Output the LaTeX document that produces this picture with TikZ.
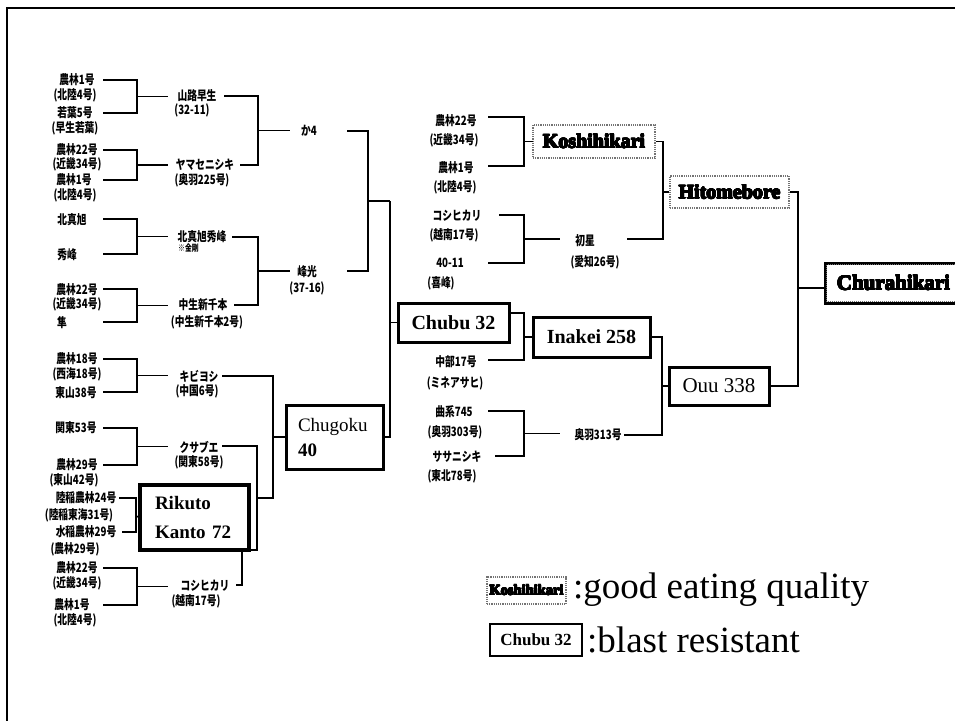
\documentclass[tikz,border=0pt]{standalone}
\usepackage{fontspec}
\usepackage[copies]{contour}
\contourlength{0.45pt}
\setmainfont{Liberation Serif}
\newfontfamily\jpf{Noto Sans CJK JP}[FakeStretch=0.76]
\newcommand\hv[1]{\contour{black}{#1}}
\newcommand\pedbr[6]{\draw[ln] (#1,#2) -- (#5,#2) -- (#5,#4) -- (#3,#4); \draw[ln] (#5,{(#2+#4)/2}) -- (#6,{(#2+#4)/2});}
\tikzset{
 ln/.style={line width=1.1pt},
 jl/.style={font=\jpf\bfseries\fontsize{12.8}{14}\selectfont, inner sep=0pt},
 jsm/.style={font=\jpf\bfseries\fontsize{9}{10}\selectfont, inner sep=0pt, anchor=west},
 blastbox/.style={draw, line width=3pt, inner sep=0pt, font=\bfseries\fontsize{20}{22}\selectfont},
 goodbox/.style={draw=black!55, densely dotted, line width=1.2pt, inner sep=0pt, font=\bfseries\fontsize{20}{22}\selectfont},
 legtext/.style={font=\fontsize{37}{40}\selectfont, anchor=west, inner sep=0pt},
}
\begin{document}
\begin{tikzpicture}[x=1pt,y=-1pt]
\useasboundingbox (0,0) rectangle (955,720);
\fill[white] (0,0) rectangle (955,720);
\draw[line width=2pt] (7,725) -- (7,8) -- (960,8);

% left column
\node[jl] (a1) at (77,80) {農林1号};
\node[jl] (a1p) at (75,95) {(北陸4号)};
\node[jl] (a2) at (75,113) {若葉5号};
\node[jl] (a2p) at (75,128) {(早生若葉)};
\node[jl] (b1) at (77,150) {農林22号};
\node[jl] (b1p) at (77,164) {(近畿34号)};
\node[jl] (b2) at (74,180) {農林1号};
\node[jl] (b2p) at (75,195) {(北陸4号)};
\node[jl] (c1) at (72,220) {北真旭};
\node[jl] (c2) at (67,255) {秀峰};
\node[jl] (d1) at (77,290) {農林22号};
\node[jl] (d1p) at (77,304) {(近畿34号)};
\node[jl] (d2) at (62,323) {隼};
\node[jl] (e1) at (77,359) {農林18号};
\node[jl] (e1p) at (77,374) {(西海18号)};
\node[jl] (e2) at (76,393) {東山38号};
\node[jl] (f1) at (76,428) {関東53号};
\node[jl] (f2) at (77,465) {農林29号};
\node[jl] (f2p) at (74,480) {(東山42号)};
\node[jl] (g1) at (86,498) {陸稲農林24号};
\node[jl] (g1p) at (79,515) {(陸稲東海31号)};
\node[jl] (g2) at (86,532) {水稲農林29号};
\node[jl] (g2p) at (75,549) {(農林29号)};
\node[jl] (h1) at (77,568) {農林22号};
\node[jl] (h1p) at (77,583) {(近畿34号)};
\node[jl] (h2) at (72,605) {農林1号};
\node[jl] (h2p) at (75,620) {(北陸4号)};

% second column
\node[jl] (m1) at (197,96) {山路早生};
\node[jl] (m1p) at (192,110) {(32-11)};
\node[jl] (m2) at (205,165) {ヤマセニシキ};
\node[jl] (m2p) at (202,180) {(奥羽225号)};
\node[jl] (m3) at (202,237) {北真旭秀峰};
\node[jsm] (m3p) at (178,248) {※金剛};
\node[jl] (m4) at (203,305) {中生新千本};
\node[jl] (m4p) at (207,322) {(中生新千本2号)};
\node[jl] (m5) at (199,376) {キビヨシ};
\node[jl] (m5p) at (197,391) {(中国6号)};
\node[jl] (m6) at (199,447) {クサブエ};
\node[jl] (m6p) at (199,462) {(関東58号)};
\node[jl] (m8) at (205,586) {コシヒカリ};
\node[jl] (m8p) at (196,601) {(越南17号)};
\node[jl] (k4) at (309,131) {か4};
\node[jl] (hk) at (307,272) {峰光};
\node[jl] (hkp) at (307,288) {(37-16)};

% middle column
\node[jl] (n1) at (456,121) {農林22号};
\node[jl] (n1p) at (454,140) {(近畿34号)};
\node[jl] (n2) at (456,168) {農林1号};
\node[jl] (n2p) at (455,187) {(北陸4号)};
\node[jl] (n3) at (457,216) {コシヒカリ};
\node[jl] (n3p) at (454,235) {(越南17号)};
\node[jl] (n4) at (450,263) {40-11};
\node[jl] (n4p) at (441,283) {(喜峰)};
\node[jl] (hb) at (585,241) {初星};
\node[jl] (hbp) at (595,262) {(愛知26号)};
\node[jl] (n5) at (456,362) {中部17号};
\node[jl] (n5p) at (455,383) {(ミネアサヒ)};
\node[jl] (n6) at (454,412) {曲系745};
\node[jl] (n6p) at (455,432) {(奥羽303号)};
\node[jl] (n7) at (457,457) {ササニシキ};
\node[jl] (n7p) at (452,476) {(東北78号)};
\node[jl] (o3) at (598,435) {奥羽313号};

% boxes
\node[blastbox, font=\fontsize{19}{25}\selectfont, text width=73pt, align=left, inner xsep=12pt, minimum height=64pt] (chugoku) at (334.5,437) {Chugoku\\\textbf{40}};
\node[blastbox, line width=3.4pt, font=\bfseries\fontsize{19}{29}\selectfont, text width=79pt, align=left, inner xsep=15pt, minimum height=65pt] (rikuto) at (194.5,517.5) {Rikuto\\Kanto 72};
\node[blastbox, minimum width=111pt, minimum height=39pt] (chubu) at (453.5,322.5) {Chubu 32};
\node[blastbox, minimum width=117pt, minimum height=40pt] (inakei) at (591.5,337) {Inakei 258};
\node[blastbox, font=\fontsize{21}{23}\selectfont, minimum width=100pt, minimum height=38pt] (ouu) at (719,386) {Ouu 338};
\node[goodbox, minimum width=122pt, minimum height=33pt] (koshi) at (594,141.5) {\hv{Koshihikari}};
\node[goodbox, minimum width=119pt, minimum height=32pt] (hito) at (729.5,192) {\hv{Hitomebore}};
\node[blastbox, font=\bfseries\fontsize{21}{23}\selectfont, minimum width=137pt, minimum height=40pt] (chura) at (893.5,283) {\hv{Churahikari}};
\draw[black!55, densely dotted, line width=1pt] ([shift={(3,3)}]chura.north west) rectangle ([shift={(-3,-3)}]chura.south east);

% brackets, left
\pedbr{103}{80}{103}{113}{137}{168}
\pedbr{103}{150}{103}{180}{137}{168}
\pedbr{103}{219}{103}{254}{137}{168}
\pedbr{103}{289}{103}{322}{137}{168}
\pedbr{103}{359}{103}{392}{137}{168}
\pedbr{103}{428}{103}{465}{137}{168}
\draw[ln] (119,498) -- (136,498) -- (136,532) -- (122,532);
\draw[ln] (136,515) -- (rikuto.west);
\pedbr{103}{568}{103}{605}{137}{168}

% level 2
\pedbr{224}{96}{240}{165}{258}{290}
\pedbr{232}{237}{234}{305}{258}{290}
\pedbr{347}{131}{347}{271}{368}{390}
\draw[ln] (390,201) |- (chugoku.east);
\draw[ln] (390,322.5) -- (chubu.west);

\draw[ln] (222,376) -- (273,376) -- (273,498) -- (257,498);
\draw[ln] (273,437) -- (chugoku.west);
\draw[ln] (222,446) -- (257,446) -- (257,550) -- (249,550);
\draw[ln] (236,585) -- (242,585) -- (242,550);

% middle
\pedbr{488}{117}{488}{166}{524}{533}
\pedbr{499}{215}{488}{263}{524}{560}
\draw[ln] (627,239) -- (663,239) -- (663,141.5) -- (koshi.east);
\draw[ln] (663,192) -- (hito.west);
\draw[ln] (509,313) -- (524,313) -- (524,360) -- (488,360);
\draw[ln] (524,337) -- (inakei.west);
\pedbr{488}{411}{495}{456}{524}{560}
\draw[ln] (624,435) -- (662,435) -- (662,337) -- (inakei.east);
\draw[ln] (662,386) -- (ouu.west);
\draw[ln] (hito.east) -- (798,192) -- (798,386) -- (ouu.east);
\draw[ln] (798,288) -- (825,288);

% legend
\node[goodbox, font=\bfseries\fontsize{14.5}{16}\selectfont, minimum width=79pt, minimum height=27pt] (legk) at (526.5,590.5) {\hv{Koshihikari}};
\node[legtext] (legkt) at (573,590) {:good eating quality};
\node[blastbox, line width=2.4pt, font=\bfseries\fontsize{17}{19}\selectfont, minimum width=92pt, minimum height=32pt] (legc) at (536,640) {Chubu 32};
\node[legtext] (legct) at (587,640) {:blast resistant};
\end{tikzpicture}
\end{document}
